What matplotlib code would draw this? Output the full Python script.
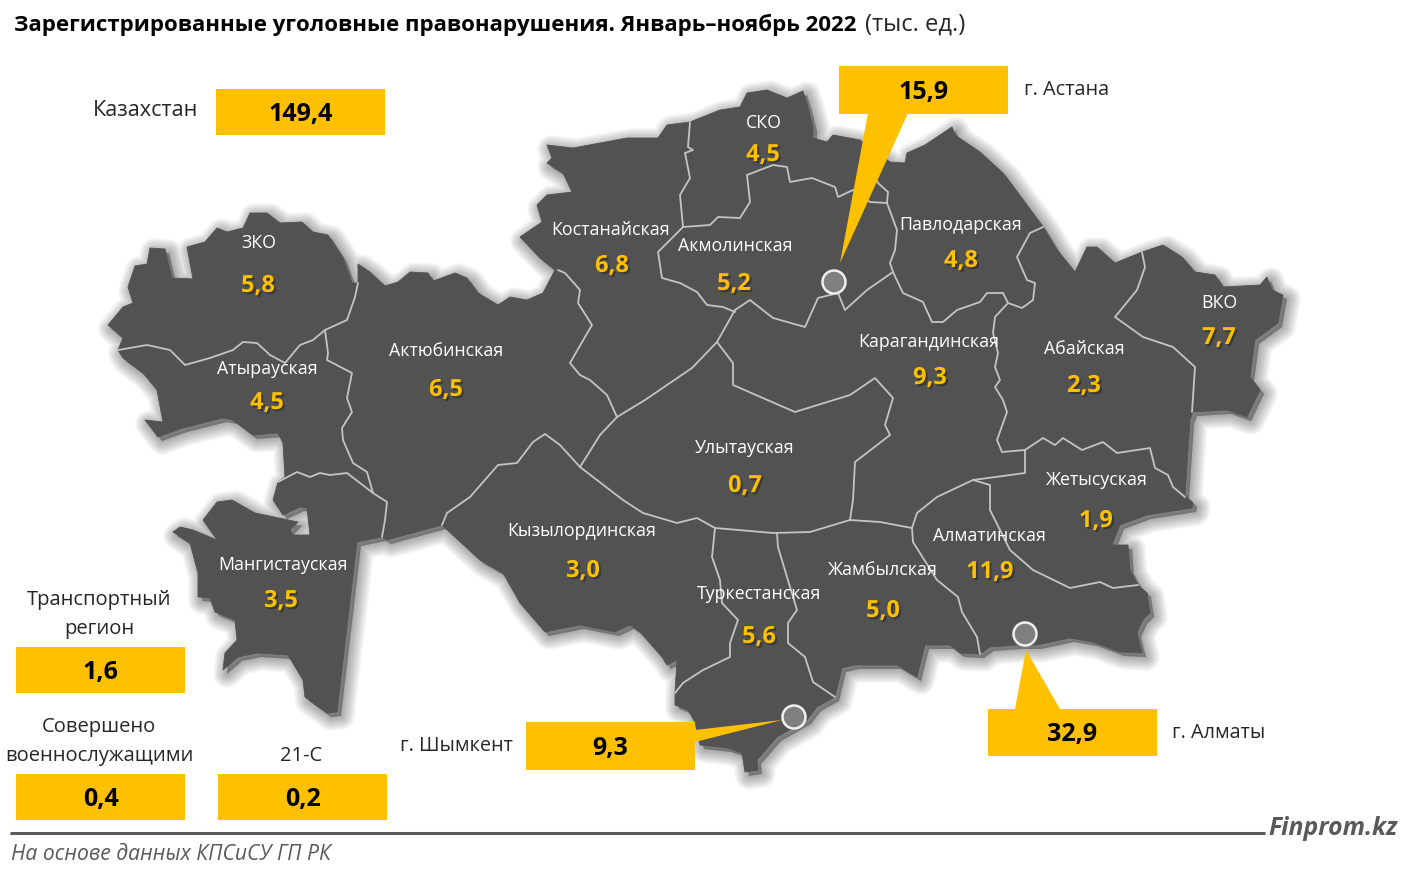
import matplotlib
matplotlib.use("Agg")
import matplotlib.pyplot as plt
import matplotlib.patheffects as pe
from matplotlib.patches import Polygon, Rectangle, Circle

W, H = 1406, 872
FONT = ["Open Sans", "Noto Sans", "DejaVu Sans"]
plt.rcParams["font.family"] = FONT

regions = ["ЗКО", "Атырауская", "Актюбинская", "Костанайская", "СКО", "Акмолинская",
           "Павлодарская", "Карагандинская", "Абайская", "ВКО", "Улытауская", "Жетысуская",
           "Алматинская", "Жамбылская", "Туркестанская", "Кызылординская", "Мангистауская"]
values = [5.8, 4.5, 6.5, 6.8, 4.5, 5.2, 4.8, 9.3, 2.3, 7.7, 0.7, 1.9, 11.9, 5.0, 5.6, 3.0, 3.5]
name_pos = [(259,243),(267,369),(446,351),(611,230),(764,123),(735,246),(961,225),(929,342),
            (1084,349),(1219,303),(745,448),(1097,480),(989,536),(883,570),(759,594),(582,531),(283,565)]
value_pos = [(258,286),(267,403),(446,390),(612,266),(763,155),(734,284),(961,261),(930,378),
             (1084,386),(1219,338),(745,486),(1096,521),(990,572),(883,611),(759,637),(583,571),(281,601)]

outline = [(108,325),(123,307),(133,303),(128,287),(135,266),(147,264),(150,248),(165,249),(172,278),(193,279),
 (187,247),(205,242),(217,228),(227,232),(243,228),(250,213),(267,213),(280,223),(302,222),(313,232),(328,235),
 (343,258),(352,283),(358,283),(358,264),(370,272),(385,286),(398,282),(410,272),(428,273),(433,281),(455,273),
 (467,278),(478,293),(498,305),(510,297),(527,300),(543,293),(555,270),(540,258),(520,237),(542,222),(537,205),
 (547,195),(572,192),(563,173),(547,163),(552,158),(547,145),(573,148),(627,138),(658,138),(667,125),(690,122),
 (720,110),(740,107),(747,93),(767,90),(787,98),(803,91),(808,107),(813,127),(813,138),(827,142),(833,135),
 (860,140),(890,162),(905,163),(907,153),(925,145),(952,127),(955,135),(980,152),(1003,173),(1023,200),(1043,227),
 (1057,250),(1075,272),(1087,247),(1097,247),(1115,263),(1142,252),(1163,245),(1182,257),(1195,272),(1215,275),
 (1223,287),(1260,285),(1267,277),(1272,290),(1283,295),(1278,323),(1255,340),(1250,377),(1260,390),(1247,417),
 (1227,410),(1193,412),(1190,420),(1185,495),(1193,503),(1192,508),(1147,515),(1120,525),(1112,545),(1128,545),
 (1130,570),(1138,585),(1147,593),(1150,613),(1143,620),(1137,633),(1142,653),(1120,652),(1093,642),(1070,638),
 (1037,645),(1017,645),(990,647),(980,654),(960,653),(950,645),(925,645),(917,677),(897,665),(855,665),(842,668),
 (835,697),(817,707),(807,720),(777,737),(757,760),(758,770),(745,772),(742,753),(727,748),(700,745),(695,722),
 (688,710),(675,705),(675,693),(677,660),(667,665),(662,657),(640,632),(630,625),(615,632),(580,625),(545,632),
 (520,603),(503,573),(480,560),(442,525),(387,540),(382,537),(357,542),(337,712),(327,713),(305,697),(303,680),
 (288,655),(257,653),(238,657),(223,670),(225,653),(237,640),(235,620),(215,612),(210,598),(198,597),(198,573),
 (190,543),(173,532),(180,527),(193,530),(217,540),(203,520),(217,502),(232,500),(255,513),(298,522),(290,530),
 (293,535),(310,535),(307,508),(300,507),(283,515),(273,500),(278,482),(285,477),(283,443),(278,433),(253,435),
 (233,420),(223,418),(183,428),(158,437),(145,420),(163,422),(157,390),(143,373),(123,358),(118,350),(123,338)]

zko_atyrau = [(118,350),(147,345),(170,350),(185,365),(210,358),(233,350),(243,342),(257,343),(270,355),(285,363),
              (300,345),(313,340),(325,330),(347,320),(355,297),(358,283)]
atyrau_aktobe = [(325,330),(328,353),(327,360),(352,373),(347,398),(352,412),(342,428),(343,440),(353,463),(367,472),
                 (373,493),(387,502),(385,520),(382,537)]
atyrau_mangistau = [(278,482),(297,472),(310,477),(320,473),(330,475),(347,473),(373,493)]
aktobe_kyzylorda = [(442,525),(447,513),(470,497),(498,465),(517,463),(533,442),(545,434),(560,445),(580,467)]
kyzylorda_ulytau = [(580,467),(623,500),(643,513),(677,523),(697,518),(715,528)]
ulytau_south = [(715,528),(773,533),(810,532),(850,520)]
ulytau_karaganda = [(717,342),(733,363),(733,385),(795,412),(850,395),(875,378),(893,398),(885,425),(890,435),
                    (855,462),(853,500),(850,520)]
ulytau_aktobe = [(580,467),(600,435),(617,417)]
kostanay_ulytau = [(617,417),(645,400),(692,368),(717,342),(735,310)]
kostanay_aktobe = [(558,270),(565,273),(580,290),(578,303),(592,325),(585,337),(570,363),(580,375),(590,380),(607,395),(617,417)]
kostanay_sko = [(690,122),(688,147),(693,150),(685,153),(690,178),(680,195),(683,227)]
sko_akmola = [(683,227),(710,225),(718,217),(740,218),(750,202),(747,175),(773,165),(787,167),(790,182),(812,178),
              (835,187),(838,197),(853,190),(870,202),(887,203)]
sko_pavlodar = [(868,160),(878,183),(888,192),(887,203)]
akmola_kostanay = [(683,227),(658,252),(662,278),(680,283),(697,292),(707,305),(723,307),(735,312)]
akmola_karaganda = [(735,310),(750,300),(773,318),(805,327),(818,298),(838,293),(845,310),(867,290),(893,272)]
akmola_pavlodar = [(887,203),(897,230),(895,250),(890,263),(893,272)]
pavlodar_karaganda = [(893,272),(903,293),(923,302),(932,322),(943,322),(957,310),(980,302),(987,293),(1003,293),
                      (1008,303),(1022,308),(1033,300),(1035,283),(1027,280),(1017,257),(1030,233),(1043,227)]
karaganda_abai = [(1008,303),(995,317),(993,333),(998,353),(995,367),(1000,380),(995,387),(1003,400),(1007,412),
                  (997,440),(1002,452),(1025,450)]
abai_zhetysu = [(1025,450),(1043,438),(1055,445),(1063,438),(1082,450),(1103,442),(1117,453),(1150,448),(1155,468),
                (1168,475),(1173,487),(1185,497)]
abai_vko = [(1142,252),(1145,267),(1137,290),(1115,317),(1143,337),(1173,347),(1195,367),(1192,412)]
karaganda_zhetysu = [(1025,450),(1025,473),(973,480),(937,497),(917,513),(912,528)]
karaganda_zhambyl = [(912,528),(880,522),(850,520)]
zhambyl_almaty = [(912,528),(913,542),(937,580),(958,597),(962,612),(977,637),(980,654)]
almaty_zhetysu = [(973,480),(990,485),(990,510),(1010,550),(1033,570),(1070,588),(1100,582),(1113,588),(1138,585)]
turkistan_kyzylorda = [(715,528),(712,557),(720,580),(722,603),(738,620),(730,643),(730,657),(703,670),(683,683),(675,693)]
turkistan_zhambyl = [(777,533),(778,547),(790,587),(797,610),(788,623),(788,643),(805,657),(813,682),(835,697)]
borders = [zko_atyrau, atyrau_aktobe, atyrau_mangistau, aktobe_kyzylorda, kyzylorda_ulytau, ulytau_south,
           ulytau_karaganda, ulytau_aktobe, kostanay_ulytau, kostanay_aktobe, kostanay_sko, sko_akmola, sko_pavlodar,
           akmola_kostanay, akmola_karaganda, akmola_pavlodar, pavlodar_karaganda, karaganda_abai, abai_zhetysu,
           abai_vko, karaganda_zhetysu, karaganda_zhambyl, zhambyl_almaty, almaty_zhetysu, turkistan_kyzylorda,
           turkistan_zhambyl]

box_values = [149.4, 15.9, 32.9, 9.3, 1.6, 0.4, 0.2]
box_rects = [(216,89,385,135),(839,66,1008,114),(988,709,1157,756),(526,722,695,770),
             (16,647,185,693),(16,774,185,820),(218,774,387,820)]
city_points = [(834,282),(1025,634),(794,717)]
pointers = [[(868,113),(908,113),(840,263)], [(1015,709),(1060,709),(1026,650)], [(695,730),(695,742),(782,720)]]
captions = [("Казахстан",146,111,15.6),("г. Астана",1067,90,14.3),("г. Алматы",1219,733,14.3),("г. Шымкент",456,746,14.3),
            ("Транспортный",99,600,14.5),("регион",99,629,14.5),("Совершено",99,727,14.5),("военнослужащими",99,756,14.5),("21-С",301,756,14.5)]

YEL = "#FFC000"
MAP = "#525252"
fig = plt.figure(figsize=(W/100, H/100), dpi=100)
ax = fig.add_axes([0, 0, 1, 1])
ax.set_xlim(0, W); ax.set_ylim(H, 0); ax.axis("off")

fmt = lambda v: f"{v:.1f}".replace(".", ",")

sh = [(x+4, y+4) for x, y in outline]
for lw in range(20, 0, -2):
    ax.add_patch(Polygon(sh, closed=True, fc=(0,0,0,0.035), ec=(0,0,0,0.035), lw=lw, joinstyle="round", zorder=1))
ax.add_patch(Polygon(outline, closed=True, fc=MAP, ec=MAP, lw=0.6, joinstyle="round", zorder=2))
for b in borders:
    ax.plot([p[0] for p in b], [p[1] for p in b], color="#c4c4c4", lw=1.3,
            solid_joinstyle="round", solid_capstyle="round", zorder=3)

for name, v, np_, vp in zip(regions, values, name_pos, value_pos):
    ax.text(np_[0], np_[1], name, color="white", fontsize=12.8, ha="center", va="center", zorder=6)
    ax.text(vp[0], vp[1], fmt(v), color=YEL, fontsize=17, fontweight="bold", ha="center", va="center", zorder=6,
            path_effects=[pe.withSimplePatchShadow(offset=(1.5,-1.5), alpha=0.3, shadow_rgbFace="k")])

for tri in pointers:
    ax.add_patch(Polygon(tri, closed=True, fc=YEL, ec="none", zorder=7))
for (x, y) in city_points:
    ax.add_patch(Circle((x, y), 11.5, fc="#7f7f7f", ec="#f0f0f0", lw=1.8, zorder=8))
for v, (x0, y0, x1, y1) in zip(box_values, box_rects):
    ax.add_patch(Rectangle((x0, y0), x1-x0, y1-y0, fc=YEL, ec="none", zorder=7))
    ax.text((x0+x1)/2, (y0+y1)/2+2, fmt(v), color="black", fontsize=18, fontweight="bold", ha="center", va="center", zorder=9)
for t, x, y, fs in captions:
    ax.text(x, y, t, color="#262626", fontsize=fs, ha="center", va="center", zorder=9)

ax.text(14, 25, "Зарегистрированные уголовные правонарушения. Январь–ноябрь 2022", color="black",
        fontsize=16, fontweight="bold", ha="left", va="center")
ax.text(865, 25, "(тыс. ед.)", color="#262626", fontsize=17, ha="left", va="center")

ax.plot([10, 1265], [833, 833], color="#595959", lw=2.2, solid_capstyle="butt")
ax.text(1268, 828, "Finprom.kz", color="#595959", fontsize=17.8, fontweight="bold", style="italic", ha="left", va="center")
ax.text(11, 854, "На основе данных КПСиСУ ГП РК", color="#595959", fontsize=15.2, style="italic", ha="left", va="center")

fig.savefig("out.png", dpi=100, facecolor="white")
